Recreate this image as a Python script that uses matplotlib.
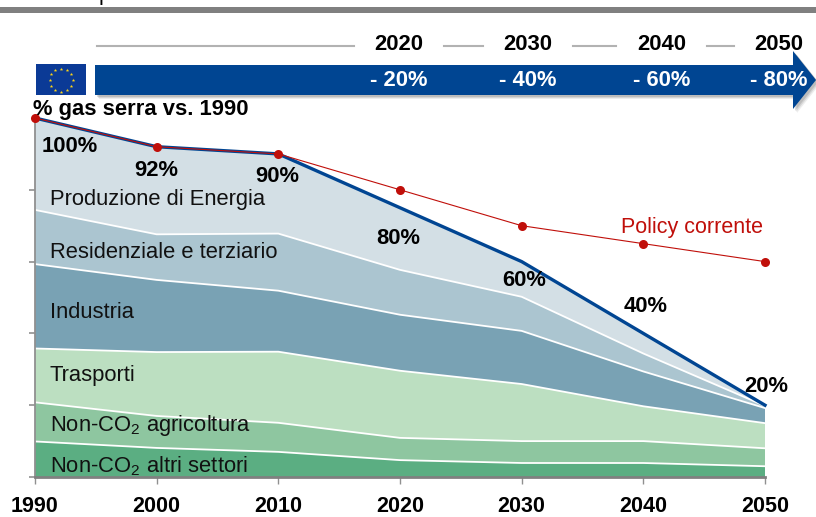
import numpy as np
import matplotlib
matplotlib.use("Agg")
import matplotlib.pyplot as plt
from matplotlib.patches import Polygon, Rectangle

plt.rcParams['font.family'] = ['Liberation Sans', 'DejaVu Sans']
plt.rcParams['mathtext.default'] = 'regular'

W, H = 816, 517

years = [1990, 2000, 2010, 2020, 2030, 2040, 2050]

# thickness of each layer, % of 1990 emissions
altri = [9.9, 8.1, 7.0, 4.7, 3.9, 3.9, 3.0]
agricoltura = [10.9, 8.9, 8.1, 6.2, 6.1, 6.1, 5.0]
trasporti = [15.0, 17.8, 19.8, 18.7, 15.9, 9.7, 7.0]
industria = [23.5, 20.1, 17.0, 15.6, 14.8, 9.7, 4.2]
residenziale = [15.1, 12.7, 15.9, 12.5, 9.5, 5.0, 0.6]
produzione = [25.6, 24.3, 22.2, 17.3, 9.8, 5.5, 0.2]

totale = [100, 92, 90, 75, 60, 40, 20]
policy = [100, 92, 90, 80, 70, 65, 60]

layers = [altri, agricoltura, trasporti, industria, residenziale, produzione]
layer_colors = ['#5BAE82', '#8EC6A0', '#BCDFC1', '#79A2B4', '#ABC5D0', '#D3DFE5']
layer_names = ['Non-CO$_2$ altri settori', 'Non-CO$_2$ agricoltura', 'Trasporti',
               'Industria', 'Residenziale e terziario', 'Produzione di Energia']
name_pos = [(50, 466), (50, 425), (50, 376), (50, 313), (50, 253), (50, 200)]

pct_labels = ['100%', '92%', '90%', '80%', '60%', '40%', '20%']
pct_pos = [(70, 146), (156, 170), (277, 176), (398, 238), (524, 280), (646, 307), (766, 386)]

target_years = ['2020', '2030', '2040', '2050']
target_cuts = ['- 20%', '- 40%', '- 60%', '- 80%']
target_x = [399, 528, 662, 779]

fig = plt.figure(figsize=(W / 100, H / 100), dpi=100)

# chart axes: 1990..2050 -> x 35..765 px, 0..100 -> y 477..118 px
ax = fig.add_axes([35 / W, 1 - 477 / H, 730 / W, 359 / H])
ax.stackplot(years, layers, colors=layer_colors, linewidth=0)
tops = np.cumsum(layers, axis=0)
for top in tops[:-1]:
    ax.plot(years, top, color='white', lw=1.3)
ax.plot(years, totale, color='#004592', lw=2.4, zorder=3, clip_on=False)
ax.plot(years, policy, color='#C00F0A', lw=0.8, zorder=4, clip_on=False)
ax.plot(years, policy, 'o', color='#C00F0A', ms=6.5, mew=0, zorder=5, clip_on=False)

ax.set_xlim(1990, 2050)
ax.set_ylim(0, 100)
ax.set_xticks(years)
ax.set_yticks([0, 20, 40, 60, 80])
ax.set_yticklabels([])
ax.tick_params(axis='x', length=5, width=1, color='#909090', pad=9, labelsize=15.5)
ax.tick_params(axis='y', length=4, width=1.2, color='#909090')
for lab in ax.get_xticklabels():
    lab.set_fontweight('bold')
ax.spines['top'].set_visible(False)
ax.spines['right'].set_visible(False)
ax.spines['left'].set_color('#909090')
ax.spines['bottom'].set_color('#808080')
ax.spines['left'].set_linewidth(1.3)
ax.spines['bottom'].set_linewidth(2)

# overlay in pixel coordinates for the header and labels
ov = fig.add_axes([0, 0, 1, 1], zorder=10)
ov.set_xlim(0, W)
ov.set_ylim(H, 0)
ov.axis('off')
ov.patch.set_alpha(0)

ov.add_patch(Rectangle((0, 7), W, 6, color='#808080', lw=0))
ov.text(105, 0, 'p', fontsize=15.8, ha='center', va='baseline', color='black')

for x0, x1 in [(97, 354), (444, 483), (573, 616), (707, 734)]:
    ov.plot([x0, x1], [46, 46], color='#B2B2B2', lw=1.5)

arrow = [(95, 65), (793, 65), (793, 51), (816, 80), (793, 109), (793, 95), (95, 95)]
for off, alpha in [(4, 0.1), (3, 0.15), (2, 0.2)]:
    ov.add_patch(Polygon([(x + off, y + off) for x, y in arrow], color='#555555', alpha=alpha, lw=0))
ov.add_patch(Polygon(arrow, color='#004592', lw=0))

ov.add_patch(Rectangle((36, 64), 50, 31, color='#0B3A96', lw=0))
ang = np.arange(12) * np.pi / 6
ov.scatter(61 + 11.5 * np.cos(ang), 80 + 11.5 * np.sin(ang), marker='*', s=7, color='#FFD617', lw=0)

for yr, cut, x in zip(target_years, target_cuts, target_x):
    ov.text(x, 44, yr, fontsize=15.8, fontweight='bold', ha='center', va='center', color='black')
    ov.text(x, 80, cut, fontsize=15.8, fontweight='bold', ha='center', va='center', color='white')

ov.text(33, 110, '% gas serra vs. 1990', fontsize=15.8, fontweight='bold', ha='left', va='center')

for name, (x, y) in zip(layer_names, name_pos):
    ov.text(x, y, name, fontsize=15.8, ha='left', va='center', color='#111111')
for lab, (x, y) in zip(pct_labels, pct_pos):
    ov.text(x, y, lab, fontsize=15.8, fontweight='bold', ha='center', va='center', color='black')
ov.text(692, 227, 'Policy corrente', fontsize=15.5, ha='center', va='center', color='#C00F0A')

fig.savefig('out.png', dpi=100)
